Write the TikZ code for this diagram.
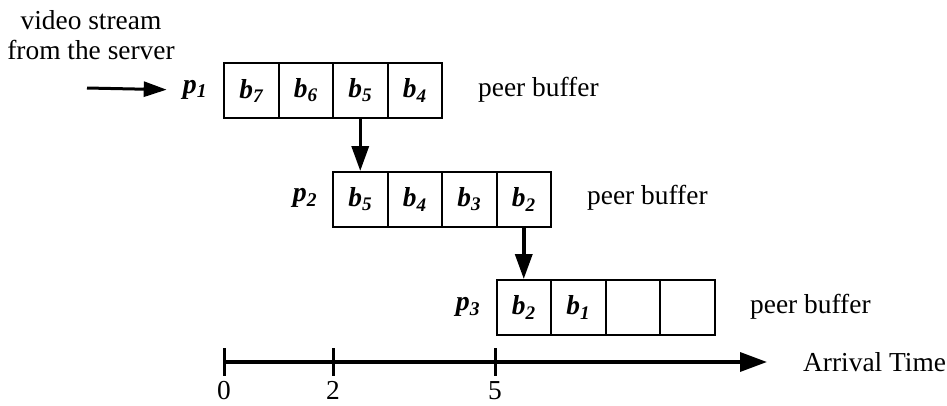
\documentclass[tikz,border=0pt]{standalone}
\usepackage{fontspec}
\setmainfont{Liberation Serif}
\usetikzlibrary{arrows.meta}
\begin{document}
\begin{tikzpicture}[x=1bp,y=-1bp,
  every node/.style={font=\fontsize{27.5}{30}\selectfont},
  cell/.style={draw,line width=2bp,minimum width=54.5bp,minimum height=55bp,inner sep=0pt,anchor=north west,font=\fontsize{27.5}{30}\selectfont\bfseries\itshape},
  lbl/.style={inner sep=0pt,anchor=west},
  peer/.style={font=\fontsize{28}{30}\selectfont\bfseries\itshape,inner sep=0pt},
  ticklbl/.style={inner sep=0pt,anchor=base},
  flow/.style={line width=3.5bp,-{Triangle[length=25bp,width=17bp]}},
  inflow/.style={line width=3bp,-{Triangle[length=23bp,width=15bp]}},
  axis/.style={line width=3.5bp,-{Triangle[length=27bp,width=19bp]}},
  tickmark/.style={line width=3bp}]
\useasboundingbox (0,0) rectangle (947,405);
% source text and input arrow
\node[align=center] (src) at (91,35) {video stream\\from the server};
\node[peer] (p1) at (195,90) {p\textsubscript{1}};
\node[peer] (p2) at (305,198) {p\textsubscript{2}};
\node[peer] (p3) at (468,307) {p\textsubscript{3}};
\coordinate (in0) at (87,88);
\draw[inflow,shorten >=16bp] (in0) -- (p1.west);
% buffer 1
\node[cell] (a1) at (223,62) {b\textsubscript{7}};
\node[cell] (a2) at (277.5,62) {b\textsubscript{6}};
\node[cell] (a3) at (332,62) {b\textsubscript{5}};
\node[cell] (a4) at (386.5,62) {b\textsubscript{4}};
\node[lbl] (pb1) at (478,90) {peer buffer};
% buffer 2
\node[cell] (b1) at (332,171) {b\textsubscript{5}};
\node[cell] (b2) at (386.5,171) {b\textsubscript{4}};
\node[cell] (b3) at (441,171) {b\textsubscript{3}};
\node[cell] (b4) at (495.5,171) {b\textsubscript{2}};
\node[lbl] (pb2) at (587,198) {peer buffer};
% buffer 3
\node[cell] (c1) at (495.5,279) {b\textsubscript{2}};
\node[cell] (c2) at (550,279) {b\textsubscript{1}};
\node[cell] (c3) at (604.5,279) {};
\node[cell] (c4) at (659,279) {};
\node[lbl] (pb3) at (750,307) {peer buffer};
% transfers
\draw[flow] (a3.south) -- (b1.north);
\draw[flow] (b4.south) -- (c1.north);
% time axis
\coordinate (t0) at (224,362);
\coordinate (t2) at (333,362);
\coordinate (t5) at (495,362);
\coordinate (tend) at (767,362);
\draw[axis] (t0) -- (tend);
\foreach \t in {t0,t2,t5}{\draw[tickmark] ([yshift=14bp]\t) -- ([yshift=-14bp]\t);}
\node[ticklbl] (l0) at (224,399) {0};
\node[ticklbl] (l2) at (333,399) {2};
\node[ticklbl] (l5) at (495,399) {5};
\node[lbl] (at) at (803,362) {Arrival Time};
\end{tikzpicture}
\end{document}
